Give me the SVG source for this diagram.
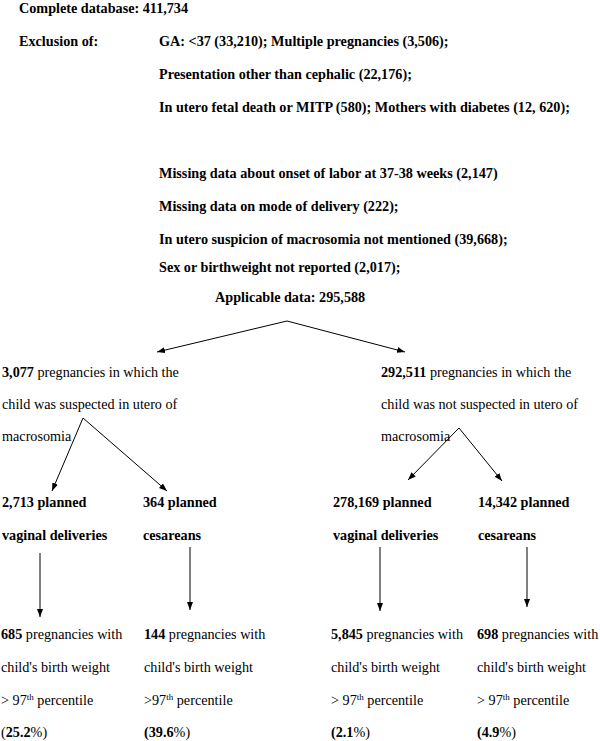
<svg xmlns="http://www.w3.org/2000/svg" width="600" height="741" viewBox="0 0 600 741">
<style>
text{font-family:"Liberation Serif","Times New Roman",serif;font-size:14.2px;fill:#000}
.b{font-weight:bold}
.sup{font-size:9px}
.c line{stroke:#000;stroke-width:1;fill:none}
</style>
<defs>
<marker id="ah" markerUnits="userSpaceOnUse" markerWidth="9" markerHeight="7" refX="8" refY="3" orient="auto">
<path d="M0,0 L8,3 L0,6 z" fill="#000"/>
</marker>
</defs>
<rect width="600" height="741" fill="#fff"/>
<g id="header">
<text class="b" x="19" y="13">Complete database: 411,734</text>
<text class="b" x="19" y="46">Exclusion of:</text>
</g>
<g id="exclusions">
<text class="b" x="159" y="46">GA: &lt;37 (33,210); Multiple pregnancies (3,506);</text>
<text class="b" x="159" y="79">Presentation other than cephalic (22,176);</text>
<text class="b" x="159" y="112">In utero fetal death or MITP (580); Mothers with diabetes (12, 620);</text>
<text class="b" x="159" y="178">Missing data about onset of labor at 37-38 weeks (2,147)</text>
<text class="b" x="159" y="211">Missing data on mode of delivery (222);</text>
<text class="b" x="159" y="244">In utero suspicion of macrosomia not mentioned (39,668);</text>
<text class="b" x="159" y="272">Sex or birthweight not reported (2,017);</text>
</g>
<g id="applicable">
<text class="b" x="215" y="302">Applicable data: 295,588</text>
</g>
<g id="suspected">
<text x="2" y="377"><tspan class="b">3,077</tspan> pregnancies in which the</text>
<text x="2" y="409">child was suspected in utero of</text>
<text x="2" y="441">macrosomia</text>
</g>
<g id="not-suspected">
<text x="381" y="377"><tspan class="b">292,511</tspan> pregnancies in which the</text>
<text x="381" y="409">child was not suspected in utero of</text>
<text x="381" y="441">macrosomia</text>
</g>
<g id="s-vaginal">
<text class="b" x="2" y="507">2,713 planned</text>
<text class="b" x="2" y="540">vaginal deliveries</text>
</g>
<g id="s-cesarean">
<text class="b" x="143" y="507">364 planned</text>
<text class="b" x="143" y="540">cesareans</text>
</g>
<g id="n-vaginal">
<text class="b" x="333" y="507">278,169 planned</text>
<text class="b" x="333" y="540">vaginal deliveries</text>
</g>
<g id="n-cesarean">
<text class="b" x="478" y="507">14,342 planned</text>
<text class="b" x="478" y="540">cesareans</text>
</g>
<g id="r1">
<text x="1" y="639"><tspan class="b">685</tspan> pregnancies with</text>
<text x="1" y="672">child's birth weight</text>
<text x="1" y="705">&gt; 97<tspan class="sup" dy="-5">th</tspan><tspan dy="5"> percentile</tspan></text>
<text x="1" y="737">(<tspan class="b">25.2</tspan>%)</text>
</g>
<g id="r2">
<text x="144" y="639"><tspan class="b">144</tspan> pregnancies with</text>
<text x="144" y="672">child's birth weight</text>
<text x="144" y="705">&gt;97<tspan class="sup" dy="-5">th</tspan><tspan dy="5"> percentile</tspan></text>
<text x="144" y="737"><tspan class="b">(39.6</tspan>%)</text>
</g>
<g id="r3">
<text x="331" y="639"><tspan class="b">5,845</tspan> pregnancies with</text>
<text x="331" y="672">child's birth weight</text>
<text x="331" y="705">&gt; 97<tspan class="sup" dy="-5">th</tspan><tspan dy="5"> percentile</tspan></text>
<text x="331" y="737"><tspan class="b">(2.1</tspan>%)</text>
</g>
<g id="r4">
<text x="477" y="639"><tspan class="b">698</tspan> pregnancies with</text>
<text x="477" y="672">child's birth weight</text>
<text x="477" y="705">&gt; 97<tspan class="sup" dy="-5">th</tspan><tspan dy="5"> percentile</tspan></text>
<text x="477" y="737"><tspan class="b">(4.9</tspan>%)</text>
</g>
<g id="connectors" class="c">
<line x1="287" y1="321" x2="157" y2="352" marker-end="url(#ah)"/>
<line x1="287" y1="321" x2="405" y2="352" marker-end="url(#ah)"/>
<line x1="83" y1="418" x2="52" y2="491" marker-end="url(#ah)"/>
<line x1="83" y1="418" x2="167" y2="491" marker-end="url(#ah)"/>
<line x1="459" y1="428" x2="408" y2="480" marker-end="url(#ah)"/>
<line x1="459" y1="428" x2="502" y2="481" marker-end="url(#ah)"/>
<line x1="40" y1="553" x2="40" y2="617" marker-end="url(#ah)"/>
<line x1="190" y1="547" x2="190" y2="610" marker-end="url(#ah)"/>
<line x1="380" y1="547" x2="380" y2="611" marker-end="url(#ah)"/>
<line x1="527" y1="547" x2="527" y2="607" marker-end="url(#ah)"/>
</g>
</svg>
